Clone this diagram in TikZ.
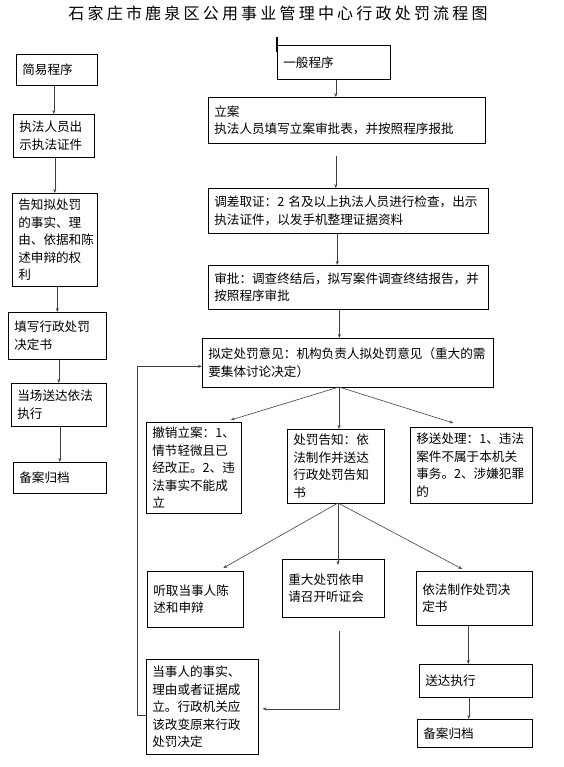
\documentclass[tikz,border=0pt]{standalone}
\usepackage{fontspec}
\setmainfont{Noto Sans CJK SC}
\newfontfamily\titlefont[LetterSpace=20]{Noto Sans CJK SC}
\usetikzlibrary{arrows.meta, positioning, calc}

\begin{document}
\begin{tikzpicture}[x=1pt, y=-1pt,
    box/.style={draw=black, line width=0.6pt, anchor=north west, align=left, inner xsep=6pt, inner ysep=2pt, font=\fontsize{12.6}{17.5}\selectfont},
    arr/.style={-{Stealth[length=4pt, width=3pt]}, draw=black!75, line width=0.6pt},
    heading/.style={font=\titlefont\fontsize{16}{18}\selectfont}
]
\useasboundingbox (0,0) rectangle (563,767);

% title
\node[heading] (title) at (278,13) {石家庄市鹿泉区公用事业管理中心行政处罚流程图};

% simple procedure (left)
\node[box, text width=69pt, minimum height=31pt] (jy) at (16,54) {简易程序};
\node[box, text width=69pt, minimum height=43pt] (zj) at (13,114) {执法人员出\\示执法证件};
\node[box, text width=73pt, minimum height=93pt] (gz) at (12,193) {告知拟处罚\\的事实、理\\由、依据和陈\\述申辩的权\\利};
\node[box, text width=86pt, minimum height=47pt] (tx) at (8,312) {填写行政处罚\\决定书};
\node[box, text width=83pt, minimum height=43pt] (dc) at (11,383) {当场送达依法\\执行};
\node[box, text width=81pt, minimum height=31pt] (ba) at (13,462) {备案归档};

\draw[arr] (zj.north |- jy.south) -- (zj.north);
\draw[arr] (gz.north |- zj.south) -- (gz.north);
\draw[arr] (tx.north |- gz.south) -- (tx.north);
\draw[arr] (dc.north |- tx.south) -- (dc.north);
\draw[arr] (ba.north |- dc.south) -- (ba.north);

% general procedure (right)
\node[box, text width=101pt, minimum height=34pt] (yb) at (277,45) {一般程序};
\draw[line width=1.2pt] ([yshift=8pt]yb.north west) -- ([yshift=-7pt]yb.north west);
\node[box, text width=265pt, minimum height=46pt] (la) at (208,97) {立案\\执法人员填写立案审批表，并按照程序报批};
\node[box, text width=268pt, minimum height=45pt] (dq) at (208,188) {调差取证：2 名及以上执法人员进行检查，出示\\执法证件，以发手机整理证据资料};
\node[box, text width=268pt, minimum height=44pt] (sp) at (208,265) {审批：调查终结后，拟写案件调查终结报告，并\\按照程序审批};
\node[box, text width=279pt, minimum height=49pt] (nd) at (202,338) {拟定处罚意见：机构负责人拟处罚意见（重大的需\\要集体讨论决定）};

\draw[arr] ([xshift=2pt]yb.south) -- ([xshift=2pt]yb.south |- la.north);
\draw[arr, shorten <=12pt] ([xshift=-11pt]la.south) -- ([xshift=-11pt]la.south |- dq.north);
\draw[arr] ([xshift=-11pt]dq.south) -- ([xshift=-11pt]dq.south |- sp.north);
\draw[arr] ([xshift=-9pt]sp.south) -- ([xshift=-9pt]sp.south |- nd.north);

% three outcomes
\node[box, text width=83pt, minimum height=91pt] (cx) at (146,422) {撤销立案：1、\\情节轻微且已\\经改正。2、违\\法事实不能成\\立};
\node[box, text width=85pt, minimum height=74pt] (cf) at (287,429) {处罚告知：依\\法制作并送达\\行政处罚告知\\书};
\node[box, text width=110pt, minimum height=76pt] (ys) at (410,427) {移送处理：1、违法\\案件不属于本机关\\事务。2、涉嫌犯罪\\的};

\coordinate (fan1) at (339,387);
\draw[arr] (fan1) -- ([xshift=37pt, yshift=2pt]cx.north);
\draw[arr] (fan1) -- (fan1 |- cf.north);
\draw[arr] (fan1) -- ([xshift=-18pt, yshift=4pt]ys.north);

% after notification
\node[box, text width=84pt, minimum height=56pt] (tq) at (147,571) {听取当事人陈\\述和申辩};
\node[box, text width=90pt, minimum height=58pt] (zd) at (282,559) {重大处罚依申\\请召开听证会\\[6pt]};
\node[box, text width=104pt, minimum height=54pt] (yf) at (416,571) {依法制作处罚决\\定书};

\coordinate (fan2) at (338,503);
\draw[arr] (fan2) -- ([xshift=28pt, yshift=3pt]tq.north);
\draw[arr] (fan2) -- ([yshift=-6pt]fan2 |- zd.north);
\draw[arr] (fan2) -- ([xshift=-12pt, yshift=2pt]yf.north);

\node[box, text width=100pt, minimum height=95pt] (ds) at (146,659) {当事人的事实、\\理由或者证据成\\立。行政机关应\\该改变原来行政\\处罚决定};
\node[box, text width=101pt, minimum height=33pt] (sd) at (419,664) {送达执行};
\node[box, text width=103pt, minimum height=28pt] (ba2) at (417,719) {备案归档};

\draw[arr, shorten <=13pt, shorten >=4pt] ([xshift=6pt]zd.south) |- ([yshift=-2pt]ds.east);
\draw[arr] ([yshift=-8.5pt]ds.west) -- ++(-9,0) |- ([yshift=-3.5pt]nd.west);
\draw[arr] ([xshift=-6pt]yf.south) -- ([xshift=-6pt]yf.south |- sd.north);
\draw[arr] ([xshift=-7pt]sd.south) -- ([xshift=-7pt]sd.south |- ba2.north);
\end{tikzpicture}
\end{document}
